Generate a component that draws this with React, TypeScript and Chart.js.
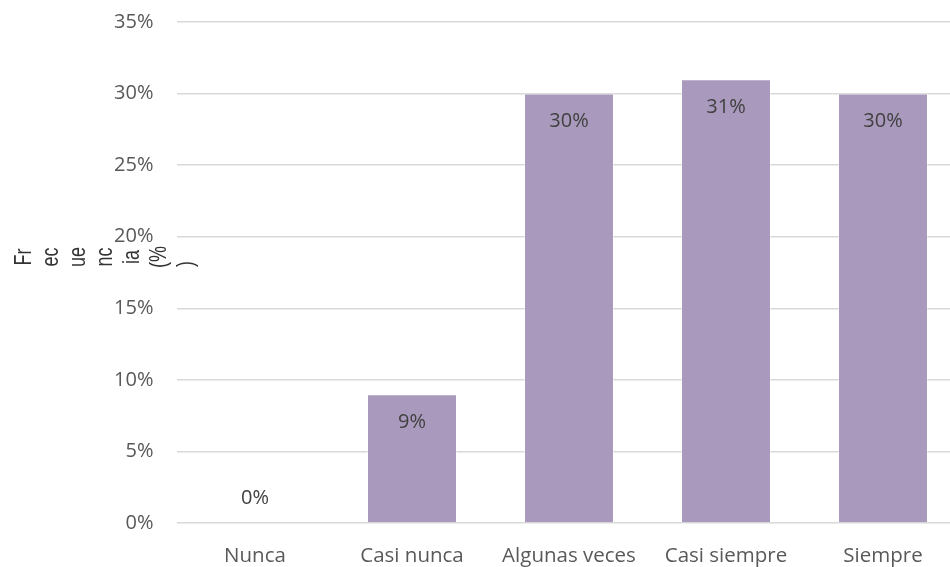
import React, { useEffect, useRef } from "react";
import { Chart, registerables } from "chart.js";

Chart.register(...registerables);

const categories = ["Nunca", "Casi nunca", "Algunas veces", "Casi siempre", "Siempre"];
const frecuencia = [0, 9, 30, 31, 30];
const yTicks = [0, 5, 10, 15, 20, 25, 30, 35];
const yTitleLines = ["Fr", "ec", "ue", "nc", "ia", "(%", ")"];

const BAR_COLOR = "#a99abd";
const TICK_COLOR = "#595959";
const LABEL_COLOR = "#404040";
const TITLE_COLOR = "#333333";
const GRID_COLOR = "#d9d9d9";
const FONT = "'Open Sans', 'Liberation Sans', sans-serif";

const CANVAS_W = 980;
const CANVAS_H = 567;

// Value labels placed just inside the top of each bar (above the baseline for zero)
const valueLabels = {
  id: "valueLabels",
  afterDatasetsDraw(chart: any) {
    const ctx = chart.ctx;
    const meta = chart.getDatasetMeta(0);
    ctx.save();
    ctx.font = `20px ${FONT}`;
    ctx.fillStyle = LABEL_COLOR;
    ctx.textAlign = "center";
    ctx.textBaseline = "middle";
    meta.data.forEach((bar: any, i: number) => {
      const v = frecuencia[i];
      const y = v > 0 ? bar.y + 28 : bar.y - 25;
      ctx.fillText(`${v}%`, bar.x, y);
    });
    ctx.restore();
  },
};

// Rotated axis title, wrapped into short stacked lines of condensed text
const yTitle = {
  id: "yTitle",
  afterDraw(chart: any) {
    const ctx = chart.ctx;
    ctx.save();
    ctx.font = `24px 'Liberation Sans', Arial, sans-serif`;
    ctx.fillStyle = TITLE_COLOR;
    ctx.textAlign = "center";
    ctx.textBaseline = "alphabetic";
    yTitleLines.forEach((line, i) => {
      ctx.save();
      ctx.translate(31 + i * 27, line === ")" ? 264 : 257);
      ctx.rotate(-Math.PI / 2);
      ctx.scale(0.75, 1);
      ctx.fillText(line, 0, 0);
      ctx.restore();
    });
    ctx.restore();
  },
};

export default function App() {
  const ref = useRef<HTMLCanvasElement>(null);

  useEffect(() => {
    if (!ref.current) return;
    const chart = new Chart(ref.current, {
      type: "bar",
      data: {
        labels: categories,
        datasets: [
          {
            data: frecuencia,
            backgroundColor: BAR_COLOR,
            borderColor: "rgba(255,255,255,0.35)",
            borderWidth: 1,
            barPercentage: 0.573,
            categoryPercentage: 1,
          },
        ],
      },
      options: {
        responsive: false,
        animation: false,
        devicePixelRatio: 1,
        layout: { padding: { top: 22, right: CANVAS_W - 961.5, left: 0, bottom: 0 } },
        plugins: {
          legend: { display: false },
          tooltip: { enabled: false },
        },
        scales: {
          x: {
            grid: { display: false, drawTicks: false },
            border: { display: false },
            ticks: {
              color: TICK_COLOR,
              font: { family: FONT, size: 20.5 },
              padding: 21,
              maxRotation: 0,
              autoSkip: false,
            },
            afterFit(scale: any) {
              scale.height = 44;
            },
          },
          y: {
            min: 0,
            max: 35,
            afterBuildTicks(scale: any) {
              scale.ticks = yTicks.map((v) => ({ value: v }));
            },
            grid: { color: GRID_COLOR, lineWidth: 1.5, drawTicks: false },
            border: { display: false },
            ticks: {
              color: TICK_COLOR,
              font: { family: FONT, size: 20 },
              padding: 23,
              callback: (v: any) => `${v}%`,
            },
            afterFit(scale: any) {
              scale.width = 176.5;
              scale.paddingTop = 0;
              scale.paddingBottom = 0;
            },
          },
        },
      },
      plugins: [valueLabels, yTitle],
    });
    return () => chart.destroy();
  }, []);

  return (
    <div
      style={{
        position: "fixed",
        left: 0,
        top: 0,
        width: 950,
        height: 567,
        overflow: "hidden",
        background: "#ffffff",
      }}
    >
      <canvas
        ref={ref}
        width={CANVAS_W}
        height={CANVAS_H}
        style={{ position: "absolute", left: 0, top: 0, width: CANVAS_W, height: CANVAS_H }}
      />
    </div>
  );
}
